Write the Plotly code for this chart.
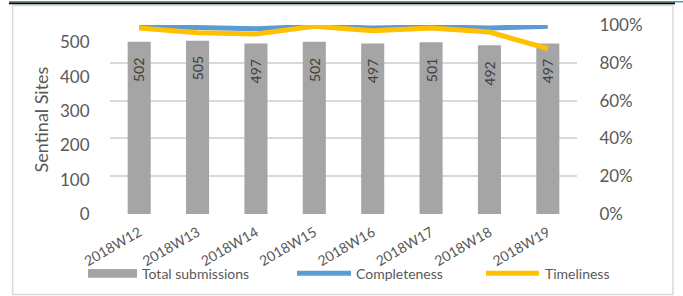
import plotly.graph_objects as go

weeks = ["2018W12", "2018W13", "2018W14", "2018W15", "2018W16", "2018W17", "2018W18", "2018W19"]
total_submissions = [502, 505, 497, 502, 497, 501, 492, 497]
completeness = [0.993, 0.984, 0.980, 0.993, 0.984, 0.990, 0.984, 0.993]
timeliness = [0.984, 0.959, 0.952, 0.993, 0.970, 0.984, 0.963, 0.875]
series_names = ["Total submissions", "Completeness", "Timeliness"]
left_ticks = [0, 100, 200, 300, 400, 500]
y_title = "Sentinal Sites"

BAR = "#A5A5A5"
BLUE = "#5B9BD5"
ORANGE = "#FFC000"
TXT = "#595959"
FONT = "Lato"

W, H = 683, 296
L, R, T, B = 110, 106, 25, 82
PW, PH = W - L - R, H - T - B


def px(x):
    return (x - L) / PW


def py(y):
    return (H - B - y) / PH


fig = go.Figure()
fig.add_trace(go.Bar(x=weeks, y=total_submissions, name=series_names[0],
                     marker=dict(color=BAR, line=dict(width=0)), yaxis="y"))
fig.add_trace(go.Scatter(x=weeks, y=completeness, name=series_names[1], mode="lines",
                         line=dict(color=BLUE, width=5), yaxis="y2"))
fig.add_trace(go.Scatter(x=weeks, y=timeliness, name=series_names[2], mode="lines",
                         line=dict(color=ORANGE, width=5), yaxis="y2"))

annotations = []
for wk, v in zip(weeks, total_submissions):
    annotations.append(dict(x=wk, y=v, xref="x", yref="y", text=str(v), showarrow=False,
                            textangle=-90, yanchor="top", yshift=-14,
                            font=dict(family=FONT, size=14, color="#404040")))

shapes = [
    # top decorative bars
    dict(type="rect", xref="paper", yref="paper", x0=px(9), x1=px(683), y0=py(1), y1=py(2.6),
         fillcolor="#3FA0B8", line=dict(width=0), layer="above"),
    dict(type="rect", xref="paper", yref="paper", x0=px(9), x1=px(675), y0=py(2.6), y1=py(4.3),
         fillcolor="#000000", line=dict(width=0), layer="above"),
    # chart border
    dict(type="rect", xref="paper", yref="paper", x0=px(12.7), x1=px(673), y0=py(5.5), y1=py(294.5),
         line=dict(color="#D9D9D9", width=1.5), layer="below"),
    # legend symbols
    dict(type="rect", xref="paper", yref="paper", x0=px(88), x1=px(137), y0=py(269), y1=py(277.7),
         fillcolor=BAR, line=dict(width=0)),
    dict(type="line", xref="paper", yref="paper", x0=px(297), x1=px(351), y0=py(273.3), y1=py(273.3),
         line=dict(color=BLUE, width=5)),
    dict(type="line", xref="paper", yref="paper", x0=px(486), x1=px(539), y0=py(273.3), y1=py(273.3),
         line=dict(color=ORANGE, width=5)),
]

for name, xpix in zip(series_names, [140, 354, 543]):
    annotations.append(dict(x=px(xpix), y=py(273.3), xref="paper", yref="paper", text=name,
                            showarrow=False, xanchor="left", yanchor="middle",
                            font=dict(family=FONT, size=14, color=TXT)))

fig.update_layout(
    template="none",
    width=W, height=H,
    margin=dict(l=L, r=R, t=T, b=B, pad=0),
    paper_bgcolor="white", plot_bgcolor="white",
    showlegend=False,
    bargap=0.605,
    font=dict(family=FONT, color=TXT),
    xaxis=dict(type="category", tickangle=-30, showgrid=False, showline=False, zeroline=False,
               automargin=False,
               ticks="outside", ticklen=4, tickcolor="rgba(0,0,0,0)",
               tickfont=dict(family=FONT, size=14, color=TXT)),
    yaxis=dict(range=[0, 551], tickvals=left_ticks, showgrid=False, zeroline=False, showline=False,
               automargin=False,
               ticks="outside", ticklen=16, tickcolor="rgba(0,0,0,0)",
               tickfont=dict(family=FONT, size=17, color=TXT),
               title=dict(text=y_title, font=dict(family=FONT, size=18, color=TXT), standoff=6)),
    yaxis2=dict(range=[0, 1], dtick=0.2, tickformat=".0%", overlaying="y", side="right",
                automargin=False,
                showgrid=True, gridcolor="#D9D9D9", gridwidth=1.5, zeroline=False, showline=False,
                ticks="outside", ticklen=18, tickcolor="rgba(0,0,0,0)",
                tickfont=dict(family=FONT, size=17, color=TXT)),
    annotations=annotations,
    shapes=shapes,
)

fig.write_html("out.html", config={"displayModeBar": False},
               post_script="document.body.style.margin='0';document.body.style.overflow='hidden';")
